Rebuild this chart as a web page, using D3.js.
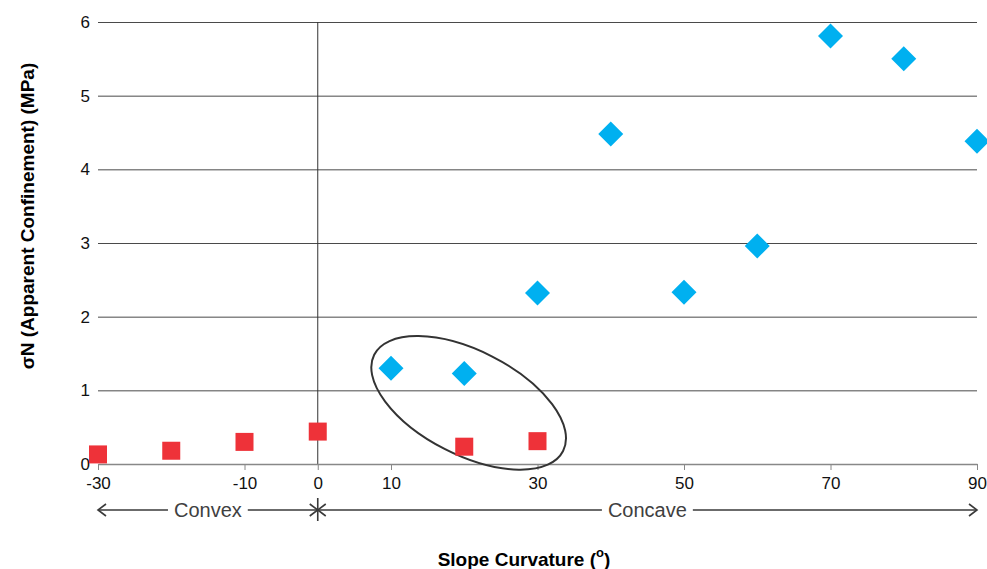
<!DOCTYPE html>
<html>
<head>
<meta charset="utf-8">
<script src="https://cdn.jsdelivr.net/npm/d3@7"></script>
<style>
  html, body { margin: 0; padding: 0; background: #fff; }
  svg { display: block; font-family: "Liberation Sans", Arial, sans-serif; }
</style>
</head>
<body>
<svg id="chart" width="987" height="569"></svg>
<script>
// ---- data ----
const concaveX = [10, 20, 30, 40, 50, 60, 70, 80, 90];
const concaveY = [1.30, 1.23, 2.32, 4.48, 2.33, 2.96, 5.81, 5.50, 4.38];
const convexX = [-30, -20, -10, 0, 20, 30];
const convexY = [0.13, 0.18, 0.30, 0.44, 0.235, 0.31];
const xTicks = [-30, -10, 0, 10, 30, 50, 70, 90];
const yTicks = [0, 1, 2, 3, 4, 5, 6];
const regionLabels = ["Convex", "Concave"];
const xTitle = "Slope Curvature (";
const yTitle = "σN (Apparent Confinement) (MPa)";

(function () {
// ---- layout ----
const svg = d3.select("#chart");
const mLeft = 98, mRight = 977, mTop = 22, mBottom = 464;
const x = d3.scaleLinear().domain([-30, 90]).range([mLeft, mRight]);
const y = d3.scaleLinear().domain([0, 6]).range([mBottom, mTop]);
const fmt = d => String(d);

// gridlines + y labels
const yAxis = d3.axisLeft(y).tickValues(yTicks).tickSize(-(mRight - mLeft)).tickPadding(8).tickFormat(fmt);
const gy = svg.append("g").attr("transform", `translate(${mLeft},0)`).call(yAxis);
gy.select(".domain").remove();
gy.selectAll(".tick line").attr("stroke", "#4a4a4a").attr("stroke-width", 1)
  .attr("opacity", d => d === 0 ? 0 : 1);
gy.selectAll(".tick text").attr("font-size", 17).attr("fill", "#111")
  .attr("font-family", "Liberation Sans, Arial, sans-serif");

// vertical line at 0
svg.append("line").attr("x1", x(0)).attr("x2", x(0)).attr("y1", y(6)).attr("y2", y(0))
  .attr("stroke", "#333").attr("stroke-width", 1);

// x axis
const xAxis = d3.axisBottom(x).tickValues(xTicks).tickSize(6).tickSizeOuter(0).tickPadding(7).tickFormat(fmt);
const gx = svg.append("g").attr("transform", `translate(0,${mBottom})`).call(xAxis);
gx.select(".domain").attr("stroke", "#888").attr("stroke-width", 1.5);
gx.selectAll(".tick line").attr("stroke", "#888");
gx.selectAll(".tick text").attr("font-size", 17).attr("fill", "#111")
  .attr("font-family", "Liberation Sans, Arial, sans-serif");

// ellipse annotation (in data space, around points at 10-30)
const ecx = x(20.6), ecy = y(0.83);
svg.append("ellipse").attr("cx", 0).attr("cy", 0).attr("rx", 106).attr("ry", 52)
  .attr("transform", `translate(${ecx},${ecy}) rotate(27)`)
  .attr("fill", "none").attr("stroke", "#333").attr("stroke-width", 2);

// convex points (red squares)
const sq = 18;
svg.append("g").selectAll("rect").data(convexX.map((d, i) => [d, convexY[i]])).join("rect")
  .attr("x", d => x(d[0]) - sq / 2).attr("y", d => y(d[1]) - sq / 2)
  .attr("width", sq).attr("height", sq).attr("fill", "#EE3239");

// concave points (blue diamonds)
const dr = 12.5;
svg.append("g").selectAll("path").data(concaveX.map((d, i) => [d, concaveY[i]])).join("path")
  .attr("d", d => {
    const cx = x(d[0]), cy = y(d[1]);
    return `M${cx},${cy - dr}L${cx + dr},${cy}L${cx},${cy + dr}L${cx - dr},${cy}Z`;
  })
  .attr("fill", "#00B0F0");

// region arrows
const ay = 510, ah = 8, acol = "#3a3a3a";
const ag = svg.append("g").attr("stroke", acol).attr("stroke-width", 1.6).attr("fill", "none");
ag.append("line").attr("x1", x(-30)).attr("x2", x(90)).attr("y1", ay).attr("y2", ay);
function head(px, dir) {
  ag.append("path").attr("d", `M${px - dir * ah},${ay - ah * 0.75}L${px},${ay}L${px - dir * ah},${ay + ah * 0.75}`);
}
head(x(-30), -1); head(x(0), 1); head(x(0), -1); head(x(90), 1);
ag.append("line").attr("x1", x(0)).attr("x2", x(0)).attr("y1", ay - 12).attr("y2", ay + 11);

const regions = [[regionLabels[0], (x(-30) + x(0)) / 2], [regionLabels[1], (x(0) + x(90)) / 2]];
regions.forEach(([t, cx]) => {
  const txt = svg.append("text").attr("x", cx).attr("y", ay + 7).attr("text-anchor", "middle")
    .attr("font-size", 20).attr("fill", "#404040").text(t);
  const bb = txt.node().getBBox();
  svg.insert("rect", function () { return txt.node(); })
    .attr("x", bb.x - 6).attr("y", ay - 4).attr("width", bb.width + 12).attr("height", 8).attr("fill", "#fff");
});

// axis titles
const xt = svg.append("text").attr("x", 524).attr("y", 566).attr("text-anchor", "middle")
  .attr("font-size", 19).attr("font-weight", "bold").attr("fill", "#000");
xt.append("tspan").text(xTitle);
xt.append("tspan").attr("font-size", 13).attr("dy", -9).text("o");
xt.append("tspan").attr("dy", 9).text(")");

svg.append("text").attr("transform", `translate(34,216) rotate(-90)`).attr("text-anchor", "middle")
  .attr("font-size", 19).attr("font-weight", "bold").attr("fill", "#000").text(yTitle);
})();
</script>
</body>
</html>
